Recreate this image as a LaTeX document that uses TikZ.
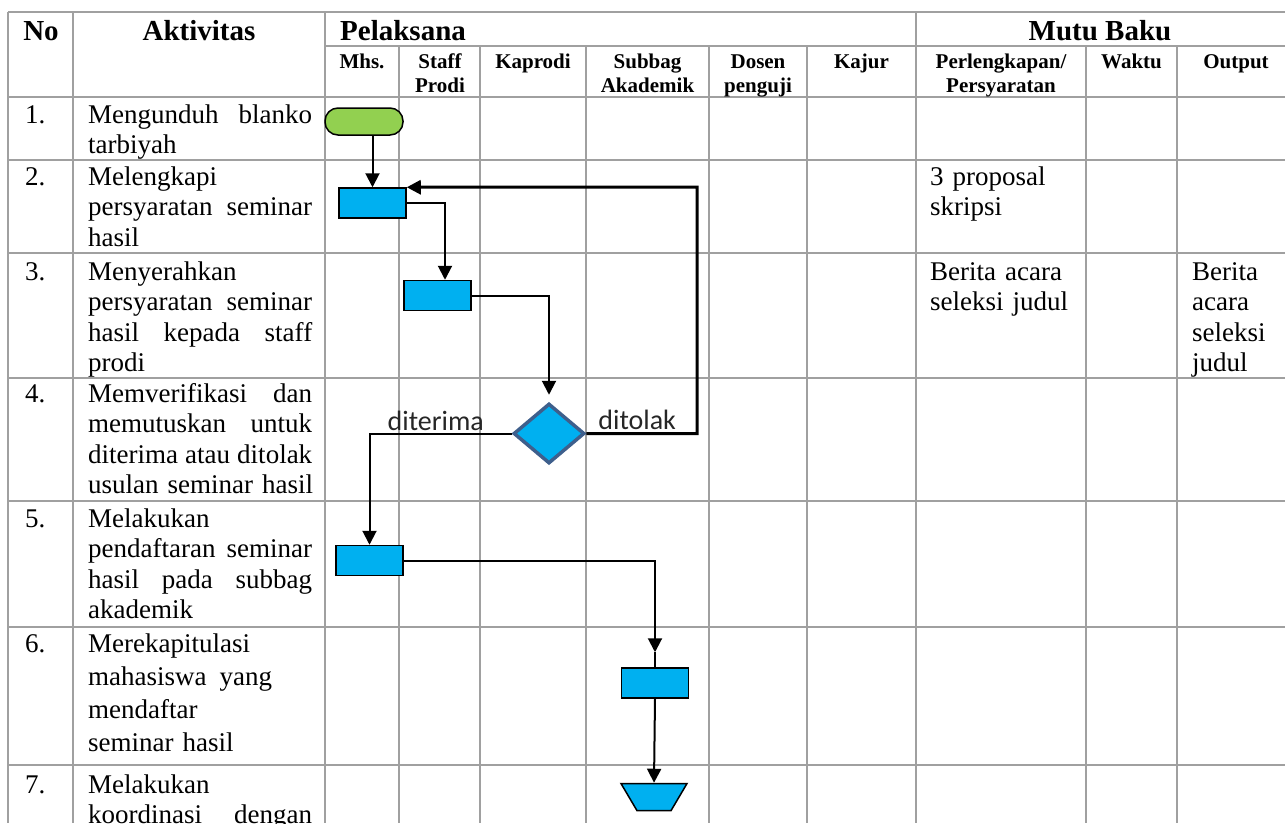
\documentclass[tikz,border=0pt]{standalone}
\usepackage{fontspec}
\setmainfont{Liberation Serif}
\newfontfamily\labelfont{Carlito}
\usetikzlibrary{arrows.meta,shapes.geometric}
\definecolor{gridgray}{HTML}{A0A0A0}
\definecolor{procblue}{HTML}{00B0F0}
\definecolor{termgreen}{HTML}{92D050}
\definecolor{decedge}{HTML}{3E5F8C}
% justified line of an activity text
\newcommand{\jl}[1]{\makebox[224pt][s]{#1}}

\begin{document}
\begin{tikzpicture}[x=1pt,y=-1pt,
  tabline/.style={draw=gridgray,line width=1.5pt},
  hdr/.style={font=\fontsize{29pt}{33pt}\selectfont\bfseries,inner sep=0pt},
  subhdr/.style={font=\fontsize{21pt}{24pt}\selectfont\bfseries,text width=140pt,align=center,anchor=base,inner sep=0pt},
  body/.style={font=\fontsize{27pt}{30.5pt}\selectfont,anchor=base west,inner sep=0pt,align=left},
  act/.style={body,text width=228pt},
  term/.style={draw,line width=1.5pt,fill=termgreen,rounded corners=13pt,minimum width=78pt,minimum height=27pt,inner sep=0pt},
  proc/.style={draw,line width=1.5pt,fill=procblue,minimum width=67pt,minimum height=30pt,inner sep=0pt},
  decision/.style={diamond,draw=decedge,line width=3.5pt,fill=procblue,minimum width=71pt,minimum height=60pt,inner sep=0pt},
  endshape/.style={trapezium,trapezium angle=65,trapezium stretches=true,shape border rotate=180,draw,line width=1.5pt,fill=procblue,minimum width=66pt,minimum height=27pt,inner sep=1pt},
  flow/.style={line width=2pt,-{Triangle[length=14pt,width=14pt]}},
  loopflow/.style={line width=3pt,-{Triangle[length=14pt,width=14pt]}},
  lbl/.style={font=\labelfont\fontsize{28pt}{30pt}\selectfont,text=black!85,inner sep=2pt}]
\useasboundingbox (0,0) rectangle (1285,823);
\clip (0,0) rectangle (1285,823);
% table rules
\draw[tabline] (8,12) -- (1285,12);
\draw[tabline] (325,46) -- (1285,46);
\draw[tabline] (8,97) -- (1285,97);
\draw[tabline] (8,160) -- (1285,160);
\draw[tabline] (8,253) -- (1285,253);
\draw[tabline] (8,378) -- (1285,378);
\draw[tabline] (8,501) -- (1285,501);
\draw[tabline] (8,627) -- (1285,627);
\draw[tabline] (8,765) -- (1285,765);
\draw[tabline] (8,12) -- (8,823);
\draw[tabline] (73,12) -- (73,823);
\draw[tabline] (325,12) -- (325,823);
\draw[tabline] (916,12) -- (916,823);
\draw[tabline] (399,46) -- (399,823);
\draw[tabline] (480,46) -- (480,823);
\draw[tabline] (586,46) -- (586,823);
\draw[tabline] (709,46) -- (709,823);
\draw[tabline] (807,46) -- (807,823);
\draw[tabline] (1086,46) -- (1086,823);
\draw[tabline] (1177,46) -- (1177,823);
% header
\node[hdr,anchor=base] (hno) at (41,40) {No};
\node[hdr,anchor=base] (hakt) at (199,40) {Aktivitas};
\node[hdr,anchor=base west] (hpel) at (340,40) {Pelaksana};
\node[hdr,anchor=base] (hmutu) at (1100,40) {Mutu Baku};
\node[subhdr] (hmhs) at (362,68) {Mhs.};
\node[subhdr] (hstaff) at (440,68) {Staff\\Prodi};
\node[subhdr] (hkap) at (533,68) {Kaprodi};
\node[subhdr] (hsub) at (647.5,68) {Subbag\\Akademik};
\node[subhdr] (hdos) at (758,68) {Dosen\\penguji};
\node[subhdr] (hkaj) at (861.5,68) {Kajur};
\node[subhdr] (hperl) at (1001,68) {Perlengkapan/\\Persyaratan};
\node[subhdr] (hwak) at (1131.5,68) {Waktu};
\node[subhdr] (hout) at (1236,68) {Output};
% rows
\node[body] (no1) at (25,123) {1.};
\node[act] (act1) at (88,123) {\jl{Mengunduh\hfill blanko}\\tarbiyah};
\node[body] (no2) at (25,185) {2.};
\node[act] (act2) at (88,185) {Melengkapi\\\jl{persyaratan\hfill seminar}\\hasil};
\node[body,text width=150pt] (req2) at (930,185) {3 proposal\\skripsi};
\node[body] (no3) at (25,280) {3.};
\node[act] (act3) at (88,280) {Menyerahkan\\\jl{persyaratan\hfill seminar}\\\jl{hasil\hfill kepada\hfill staff}\\prodi};
\node[body,text width=150pt] (req3) at (930,280) {Berita acara\\seleksi judul};
\node[body,text width=90pt] (out3) at (1192,280) {Berita\\acara\\seleksi\\judul};
\node[body] (no4) at (25,402) {4.};
\node[act] (act4) at (88,402) {\jl{Memverifikasi\hfill dan}\\\jl{memutuskan\hfill untuk}\\\jl{diterima\hfill atau\hfill ditolak}\\usulan seminar hasil};
\node[body] (no5) at (25,527) {5.};
\node[act] (act5) at (88,527) {Melakukan\\\jl{pendaftaran\hfill seminar}\\\jl{hasil\hfill pada\hfill subbag}\\akademik};
\node[body] (no6) at (25,652) {6.};
\node[act,font=\fontsize{27pt}{33.3pt}\selectfont] (act6) at (88,652) {Merekapitulasi\\mahasiswa\hspace{13pt}yang\\mendaftar\\seminar hasil};
\node[body] (no7) at (25,793) {7.};
\node[act] (act7) at (88,793) {Melakukan\\\jl{koordinasi\hfill dengan}};
% flow
\node[term] (start) at (364,121.5) {};
\node[proc] (p1) at (372.5,203) {};
\node[proc] (p2) at (437.5,295.5) {};
\node[decision] (dec) at (549,433.5) {};
\node[proc] (p3) at (369.5,560.5) {};
\node[proc] (p4) at (655,683) {};
\node[endshape] (fin) at (654,797) {};
\coordinate (back) at (697,187);
\draw[flow] (p1.north |- start.south) -- (p1.north);
\draw[flow] (p1.east) -| ([xshift=7.5pt]p2.north);
\draw[flow,shorten >=7pt] (p2.east) -| (dec.north);
\draw[flow] (dec.west) -| (p3.north) node[pos=0.267,above,lbl] (lblyes) {diterima};
\draw[loopflow] (dec.east) -| (back) node[pos=0.23,above,lbl] (lblno) {ditolak} -- (p1.north east);
\draw[flow,shorten >=15pt] (p3.east) -| (p4.north);
\draw[line width=1.5pt] ([yshift=15pt]p4.north) -- (p4.north);
\draw[flow] (p4.south) -- (fin.north);
\end{tikzpicture}
\end{document}
